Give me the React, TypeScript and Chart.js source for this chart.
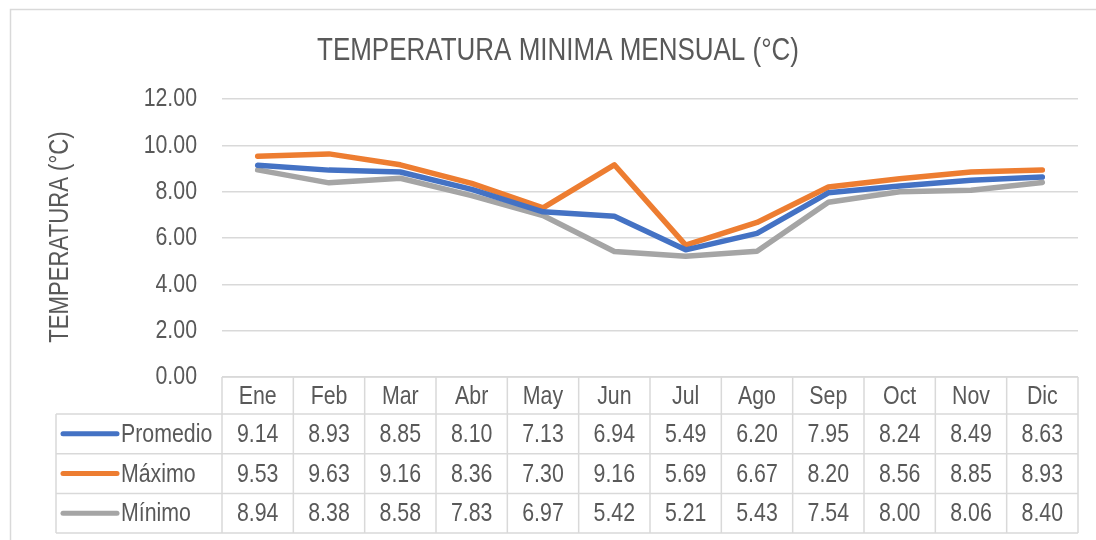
import React, { useEffect, useRef } from "react";
import { Chart, registerables } from "chart.js";

Chart.register(...registerables);

const chartTitle = "TEMPERATURA MINIMA MENSUAL (°C)";
const yAxisTitle = "TEMPERATURA (°C)";
const months = ["Ene", "Feb", "Mar", "Abr", "May", "Jun", "Jul", "Ago", "Sep", "Oct", "Nov", "Dic"];
const promedio = [9.14, 8.93, 8.85, 8.1, 7.13, 6.94, 5.49, 6.2, 7.95, 8.24, 8.49, 8.63];
const maximo = [9.53, 9.63, 9.16, 8.36, 7.3, 9.16, 5.69, 6.67, 8.2, 8.56, 8.85, 8.93];
const minimo = [8.94, 8.38, 8.58, 7.83, 6.97, 5.42, 5.21, 5.43, 7.54, 8.0, 8.06, 8.4];
const seriesNames = ["Promedio", "Máximo", "Mínimo"];
const seriesColors = ["#4472C4", "#ED7D31", "#A5A5A5"];
const yMin = 0;
const yMax = 12;
const yStep = 2;

const FONT = '"Liberation Sans", Arial, sans-serif';
const NARROW = 0.82;
const TEXT = "#595959";
const GRID = "#D9D9D9";

function narrowText(
  ctx: CanvasRenderingContext2D,
  text: string,
  x: number,
  y: number,
  size: number,
  align: CanvasTextAlign,
  baseline: CanvasTextBaseline,
  rotate = 0
) {
  ctx.save();
  ctx.translate(x, y);
  if (rotate) ctx.rotate(rotate);
  ctx.scale(NARROW, 1);
  ctx.font = `${size}px ${FONT}`;
  ctx.fillStyle = TEXT;
  ctx.textAlign = align;
  ctx.textBaseline = baseline;
  ctx.fillText(text, 0, 0);
  ctx.restore();
}

const excelPlugin = {
  id: "excelTable",
  beforeDraw(chart: any) {
    const ctx = chart.ctx;
    ctx.save();
    ctx.fillStyle = "#ffffff";
    ctx.fillRect(0, 0, chart.width, chart.height);
    ctx.strokeStyle = GRID;
    ctx.lineWidth = 1.5;
    ctx.strokeRect(10.5, 9.5, chart.width + 40, chart.height + 40);
    ctx.restore();
    narrowText(ctx, chartTitle, 558, 60, 31.7, "center", "alphabetic");
  },
  afterDraw(chart: any) {
    const ctx = chart.ctx;
    const area = chart.chartArea;
    const xs = chart.scales.x;
    const ys = chart.scales.y;
    const n = months.length;
    const step = xs.getPixelForValue(1) - xs.getPixelForValue(0);
    const left = xs.getPixelForValue(0) - step / 2;
    const right = xs.getPixelForValue(n - 1) + step / 2;
    const top = area.bottom;
    const headerH = 37;
    const rowH = 39.7;
    const legendLeft = 56;
    const rowsTop = top + headerH;
    const bottom = rowsTop + rowH * seriesNames.length;
    const allSeries = [promedio, maximo, minimo];

    // y tick labels
    for (let v = yMin; v <= yMax; v += yStep) {
      narrowText(ctx, v.toFixed(2), area.left - 25, ys.getPixelForValue(v), 26, "right", "middle");
    }
    // y axis title
    narrowText(ctx, yAxisTitle, 61, (area.top + area.bottom) / 2 - 1, 27, "center", "middle", -Math.PI / 2);

    ctx.save();
    ctx.strokeStyle = GRID;
    ctx.lineWidth = 1.5;
    ctx.beginPath();
    ctx.moveTo(left, top);
    ctx.lineTo(right, top);
    for (let r = 0; r <= seriesNames.length; r++) {
      const y = rowsTop + r * rowH;
      ctx.moveTo(legendLeft, y);
      ctx.lineTo(right, y);
    }
    ctx.moveTo(legendLeft, rowsTop);
    ctx.lineTo(legendLeft, bottom);
    for (let i = 0; i <= n; i++) {
      const x = left + i * step;
      ctx.moveTo(x, top);
      ctx.lineTo(x, bottom);
    }
    ctx.stroke();
    ctx.restore();

    for (let i = 0; i < n; i++) {
      const cx = xs.getPixelForValue(i);
      narrowText(ctx, months[i], cx, top + headerH / 2 + 1, 26, "center", "middle");
      for (let r = 0; r < allSeries.length; r++) {
        const cy = rowsTop + r * rowH + rowH / 2 + 1;
        narrowText(ctx, allSeries[r][i].toFixed(2), cx, cy, 26, "center", "middle");
      }
    }
    for (let r = 0; r < seriesNames.length; r++) {
      const cy = rowsTop + r * rowH + rowH / 2;
      ctx.save();
      ctx.strokeStyle = seriesColors[r];
      ctx.lineWidth = 5;
      ctx.lineCap = "round";
      ctx.beginPath();
      ctx.moveTo(63, cy);
      ctx.lineTo(117, cy);
      ctx.stroke();
      ctx.restore();
      narrowText(ctx, seriesNames[r], 121, cy + 1, 26, "left", "middle");
    }
  },
};

export default function App() {
  const ref = useRef<HTMLCanvasElement | null>(null);
  useEffect(() => {
    document.body.style.margin = "0";
    const canvas = ref.current;
    if (!canvas) return;
    const chart = new Chart(canvas, {
      type: "line",
      data: {
        labels: months,
        datasets: [promedio, maximo, minimo].map((d, i) => ({
          label: seriesNames[i],
          data: d,
          borderColor: seriesColors[i],
          backgroundColor: seriesColors[i],
          borderWidth: 5.5,
          pointRadius: 0,
          tension: 0,
          borderCapStyle: "round",
          borderJoinStyle: "round",
          fill: false,
        })),
      },
      options: {
        animation: false,
        responsive: false,
        devicePixelRatio: 1,
        layout: { padding: { left: 0, top: 99, right: 18, bottom: 163 } },
        plugins: {
          legend: { display: false },
          title: { display: false },
          tooltip: { enabled: false },
        },
        scales: {
          x: {
            type: "category",
            display: false,
            offset: true,
          },
          y: {
            min: yMin,
            max: yMax,
            afterFit: (scale: any) => {
              scale.width = 222;
            },
            border: { display: false },
            grid: { color: GRID, lineWidth: 1.5, drawTicks: false },
            ticks: {
              stepSize: yStep,
              display: false,
            },
            title: { display: false },
          },
        },
      },
      plugins: [excelPlugin],
    } as any);
    return () => chart.destroy();
  }, []);
  return <canvas ref={ref} width={1096} height={540} style={{ display: "block" }} />;
}
